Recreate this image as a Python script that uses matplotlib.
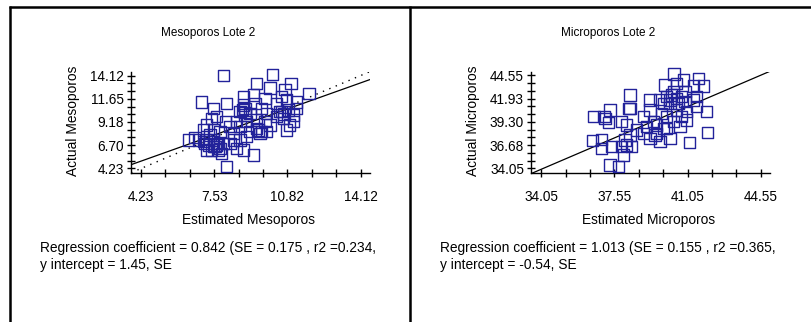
import matplotlib
matplotlib.use("Agg")
import matplotlib.pyplot as plt
from matplotlib.lines import Line2D
import numpy as np

plt.rcParams['font.family'] = ['Liberation Sans', 'DejaVu Sans']

# ---- Mesoporos, lote 2 ----
meso_est = [7.94, 10.16, 9.44, 10.04, 10.99, 10.72, 11.80, 6.96, 7.49, 8.09,
            8.84, 9.29, 9.37, 8.91, 9.66, 10.34, 10.79, 11.24, 11.09, 10.57,
            10.34, 10.91, 10.79, 11.09, 9.89, 9.44, 9.44, 9.81, 8.91, 8.99,
            8.69, 8.39, 8.03, 7.41, 7.64, 7.49, 7.79, 7.34, 6.81, 6.36,
            6.66, 7.11, 7.56, 7.71, 7.19, 7.86, 8.24, 8.54, 8.84, 8.69,
            8.39, 9.29, 8.09, 8.99, 8.54, 8.84, 8.69, 9.14, 9.89, 10.64,
            11.24, 7.19, 7.04, 8.24, 9.59, 9.81, 10.57, 7.49, 7.94, 9.14,
            10.04, 7.64, 7.04, 7.26, 7.49, 7.67, 7.79, 7.41, 7.16, 9.51,
            9.66, 10.46, 10.67, 10.86, 8.81, 8.91]
meso_act = [14.15, 14.25, 13.30, 12.80, 13.30, 12.60, 12.20, 11.30, 10.60, 11.17,
            11.87, 12.05, 11.17, 10.63, 10.63, 11.17, 11.52, 10.63, 9.92, 10.27,
            9.74, 8.86, 8.33, 9.21, 8.15, 8.51, 9.40, 9.21, 9.92, 9.21,
            8.69, 7.98, 9.21, 9.57, 9.74, 8.33, 8.15, 7.80, 7.27, 7.27,
            7.55, 6.92, 6.55, 6.20, 6.20, 5.85, 6.92, 6.38, 6.20, 7.27,
            7.27, 5.67, 4.42, 7.62, 9.21, 10.99, 10.27, 10.10, 10.10, 9.57,
            11.30, 8.86, 8.33, 8.69, 7.98, 11.70, 11.87, 7.27, 6.92, 8.15,
            8.86, 6.73, 7.08, 6.73, 6.55, 6.91, 6.38, 6.20, 7.34, 8.33,
            8.15, 10.27, 10.03, 10.45, 10.53, 10.17]

# ---- Microporos, lote 2 ----
micro_est = [40.40, 39.97, 40.84, 41.56, 41.80, 41.32, 40.53, 38.30, 38.30, 37.34,
             37.06, 37.26, 37.90, 38.14, 39.25, 39.73, 40.21, 41.00, 41.48, 41.96,
             41.32, 40.77, 40.37, 39.89, 39.57, 39.49, 39.73, 40.21, 39.25, 38.93,
             38.62, 38.30, 38.06, 38.14, 38.38, 37.90, 36.52, 36.95, 36.95, 37.42,
             37.98, 37.34, 37.74, 41.13, 42.01, 40.05, 39.41, 39.10, 40.69, 41.00,
             41.48, 40.92, 39.25, 38.93, 39.81, 40.53, 40.05, 39.57, 40.05, 40.29,
             40.53, 40.77, 40.21, 40.60, 40.92, 40.37, 39.89, 36.58, 37.10, 38.25]
micro_act = [44.70, 43.47, 44.04, 44.23, 43.36, 43.36, 43.66, 42.35, 40.84, 40.65,
             39.90, 39.22, 39.33, 38.96, 41.78, 41.86, 41.78, 40.46, 41.03, 40.46,
             41.78, 39.90, 39.33, 38.59, 38.96, 37.83, 37.08, 37.46, 37.46, 38.02,
             38.40, 37.83, 37.27, 36.70, 36.51, 36.51, 37.19, 37.35, 36.33, 36.51,
             35.57, 34.45, 34.25, 36.96, 38.09, 38.59, 39.33, 38.77, 38.77, 39.52,
             42.15, 42.72, 40.65, 39.90, 40.28, 40.65, 39.90, 38.02, 42.15, 42.35,
             41.97, 42.15, 41.41, 41.41, 41.59, 42.72, 41.41, 39.90, 39.72, 40.84]

# Regression results shown under each chart
meso_slope, meso_intercept = 0.842, 1.45
micro_slope, micro_intercept = 1.013, -0.54

meso_xticks = [4.23, 5.33, 6.43, 7.53, 8.63, 9.72, 10.82, 11.92, 13.02, 14.12]
meso_xticklabels = ['4.23', '', '', '7.53', '', '', '10.82', '', '', '14.12']
meso_yticks = [4.23, 5.05, 5.88, 6.70, 7.53, 8.35, 9.18, 10.00, 10.82,
               11.65, 12.47, 13.30, 14.12]
meso_yticklabels = ['4.23', '', '', '6.70', '', '', '9.18', '', '',
                    '11.65', '', '', '14.12']

micro_xticks = [34.05, 35.22, 36.38, 37.55, 38.72, 39.88, 41.05, 42.22, 43.38, 44.55]
micro_xticklabels = ['34.05', '', '', '37.55', '', '', '41.05', '', '', '44.55']
micro_yticks = [34.05, 34.93, 35.80, 36.68, 37.55, 38.43, 39.30, 40.18, 41.05,
                41.93, 42.80, 43.68, 44.55]
micro_yticklabels = ['34.05', '', '', '36.68', '', '', '39.30', '', '',
                     '41.93', '', '', '44.55']

W, H = 811, 322
fig = plt.figure(figsize=(W / 100, H / 100), dpi=100)
fig.patch.set_facecolor('white')

MARK = '#22229a'


def px_x(p):
    return p / W


def px_y(p):
    return 1 - p / H


def panel(x_off, est, act, slope, intercept, xlim, ylim, xt, xtl, yt, ytl,
          title, xlabel, ylabel, note1, note2, identity):
    ax = fig.add_axes([px_x(131 + x_off), px_y(173), 239 / W, 101 / H])
    ax.set_xlim(*xlim)
    ax.set_ylim(*ylim)
    for s in ('top', 'right'):
        ax.spines[s].set_visible(False)
    for s in ('left', 'bottom'):
        ax.spines[s].set_linewidth(1.0)
        ax.spines[s].set_color('black')
    ax.set_xticks(xt)
    ax.set_xticklabels(xtl)
    ax.set_yticks(yt)
    ax.set_yticklabels(ytl)
    ax.tick_params(axis='both', direction='inout', length=6, width=1,
                   labelsize=9.8, colors='black')
    ax.tick_params(axis='x', pad=9)
    ax.tick_params(axis='y', pad=2)

    xs = np.array(xlim)
    ax.plot(xs, intercept + slope * xs, color='black', lw=0.9, zorder=2)
    if identity:
        ax.plot(xs, xs, color='black', lw=1.0, ls=(0, (1, 4)), zorder=2)
    ax.scatter(est, act, marker='s', s=66, facecolors='none',
               edgecolors=MARK, linewidths=1.0, zorder=3, clip_on=False)

    fig.text(px_x(208 + x_off), px_y(33), title, ha='center', va='center',
             fontsize=8.5)
    fig.text(px_x(249 + x_off), px_y(220), xlabel, ha='center', va='center',
             fontsize=9.9)
    fig.text(px_x(73 + x_off), px_y(121), ylabel, ha='center', va='center',
             rotation=90, fontsize=9.9)
    fig.text(px_x(40 + x_off), px_y(248), note1, ha='left', va='center',
             fontsize=9.9)
    fig.text(px_x(40 + x_off), px_y(265), note2, ha='left', va='center',
             fontsize=9.9)
    return ax


panel(0, meso_est, meso_act, meso_slope, meso_intercept,
      (3.78, 14.545), (3.75, 14.50),
      meso_xticks, meso_xticklabels, meso_yticks, meso_yticklabels,
      'Mesoporos Lote 2', 'Estimated Mesoporos', 'Actual Mesoporos',
      'Regression coefficient = 0.842 (SE = 0.175 , r2 =0.234,',
      'y intercept = 1.45, SE', True)

panel(400, micro_est, micro_act, micro_slope, micro_intercept,
      (33.57, 44.98), (33.54, 44.94),
      micro_xticks, micro_xticklabels, micro_yticks, micro_yticklabels,
      'Microporos Lote 2', 'Estimated Microporos', 'Actual Microporos',
      'Regression coefficient = 1.013 (SE = 0.155 , r2 =0.365,',
      'y intercept = -0.54, SE', False)

# Frame lines around and between the two panels
frame = dict(color='black', lw=1.8, transform=fig.transFigure, solid_capstyle='butt')
fig.add_artist(Line2D([px_x(9), 1.0], [px_y(7), px_y(7)], **frame))
fig.add_artist(Line2D([px_x(10), px_x(10)], [px_y(6), 0], **frame))
fig.add_artist(Line2D([px_x(410), px_x(410)], [px_y(6), 0], **frame))

fig.savefig('out.png', dpi=100, facecolor='white')
